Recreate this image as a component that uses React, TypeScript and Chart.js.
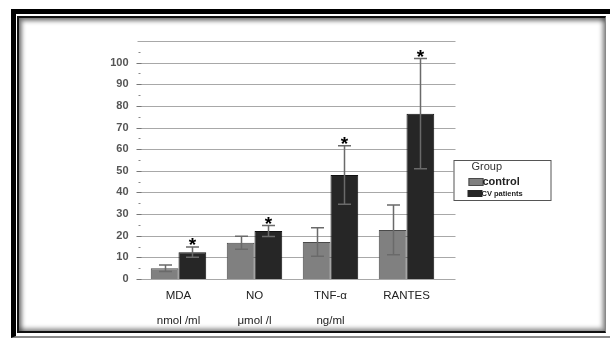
import React, { useEffect, useRef } from "react";
import { Chart, registerables } from "chart.js";

Chart.register(...registerables);

const categories = ["MDA", "NO", "TNF-α", "RANTES"];
const units = ["nmol /ml", "μmol /l", "ng/ml", ""];
const seriesNames = ["control", "CV patients"];
const controlMeans = [5, 16.8, 17.1, 22.7];
const controlErr = [1.5, 3, 6.6, 11.5];
const cvMeans = [12.4, 22.2, 48.1, 76.4];
const cvErr = [2.4, 2.5, 13.5, 25.5];
const significant = [true, true, true, true];
const yTickLabels = [0, 10, 20, 30, 40, 50, 60, 70, 80, 90, 100];
const legendTitle = "Group";

const FONT = "'Liberation Sans', Arial, sans-serif";

const gridPlugin = {
  id: "extGrid",
  beforeDatasetsDraw(chart: any) {
    const { ctx, chartArea, scales } = chart;
    const y = scales.y;
    ctx.save();
    for (let v = 0; v <= 110; v += 5) {
      const py = Math.round(y.getPixelForValue(v)) + 0.5;
      if (v % 10 === 0) {
        ctx.strokeStyle = "#a8a8a8";
        ctx.lineWidth = 1;
        ctx.beginPath();
        ctx.moveTo(chartArea.left - 3, py);
        ctx.lineTo(chartArea.right + 11, py);
        ctx.stroke();
        if (v <= 100) {
          ctx.strokeStyle = "#777";
          ctx.beginPath();
          ctx.moveTo(chartArea.left - 4, py);
          ctx.lineTo(chartArea.left + 1, py);
          ctx.stroke();
        }
      } else {
        ctx.strokeStyle = "#888";
        ctx.beginPath();
        ctx.moveTo(chartArea.left - 2, py);
        ctx.lineTo(chartArea.left, py);
        ctx.stroke();
      }
    }
    ctx.restore();
  },
};

const errorPlugin = {
  id: "errBars",
  afterDatasetsDraw(chart: any) {
    const { ctx, scales } = chart;
    const y = scales.y;
    const errs = [controlErr, cvErr];
    const means = [controlMeans, cvMeans];
    ctx.save();
    for (let d = 0; d < 2; d++) {
      const meta = chart.getDatasetMeta(d);
      meta.data.forEach((el: any, j: number) => {
        const x = Math.round(el.x) + 0.5;
        const top = y.getPixelForValue(means[d][j] + errs[d][j]);
        const bot = y.getPixelForValue(means[d][j] - errs[d][j]);
        ctx.strokeStyle = "#6a6a6a";
        ctx.lineWidth = 1.5;
        ctx.beginPath();
        ctx.moveTo(x, top);
        ctx.lineTo(x, bot);
        ctx.moveTo(x - 6.5, top);
        ctx.lineTo(x + 6.5, top);
        ctx.moveTo(x - 6.5, bot);
        ctx.lineTo(x + 6.5, bot);
        ctx.stroke();
        if (d === 1 && significant[j]) {
          ctx.fillStyle = "#000";
          ctx.font = `bold 19px ${FONT}`;
          ctx.textAlign = "center";
          ctx.textBaseline = "alphabetic";
          ctx.fillText("*", x, top + 4);
        }
      });
    }
    ctx.restore();
  },
};

const legendPlugin = {
  id: "boxLegend",
  afterDraw(chart: any) {
    const { ctx, chartArea } = chart;
    const left = chartArea.right + 9;
    const top = 160;
    const w = 97;
    const h = 40;
    ctx.save();
    ctx.fillStyle = "#fff";
    ctx.fillRect(left, top, w, h);
    ctx.strokeStyle = "#555";
    ctx.lineWidth = 1;
    ctx.strokeRect(left + 0.5, top + 0.5, w, h);
    ctx.fillStyle = "#333";
    ctx.font = `11px ${FONT}`;
    ctx.textAlign = "left";
    ctx.textBaseline = "middle";
    ctx.fillText(legendTitle, left + 18, top + 7);
    const ds = chart.data.datasets;
    ctx.fillStyle = ds[0].backgroundColor;
    ctx.fillRect(left + 15, top + 18, 15, 8);
    ctx.strokeStyle = ds[0].borderColor;
    ctx.strokeRect(left + 15.5, top + 18.5, 14, 7);
    ctx.fillStyle = "#222";
    ctx.font = `bold 11px ${FONT}`;
    ctx.fillText(seriesNames[0], left + 29, top + 22);
    ctx.fillStyle = ds[1].backgroundColor;
    ctx.fillRect(left + 14, top + 30, 15, 7);
    ctx.fillStyle = "#222";
    ctx.font = `bold 7.5px ${FONT}`;
    ctx.fillText(seriesNames[1], left + 28, top + 34);
    ctx.restore();
  },
};

export default function App() {
  const ref = useRef<HTMLCanvasElement | null>(null);
  useEffect(() => {
    if (!ref.current) return;
    const chart = new Chart(ref.current, {
      type: "bar",
      data: {
        labels: categories.map((c, i) => [c, units[i]]),
        datasets: [
          {
            label: seriesNames[0],
            data: controlMeans,
            backgroundColor: "#808080",
            borderColor: "#4a4a4a",
            borderWidth: 1,
          },
          {
            label: seriesNames[1],
            data: cvMeans,
            backgroundColor: "#262626",
            borderColor: "#111",
            borderWidth: 1,
          },
        ],
      },
      options: {
        responsive: false,
        animation: false,
        devicePixelRatio: 1,
        layout: { padding: { left: 0, top: 41, right: 165.5, bottom: 0 } },
        datasets: { bar: { categoryPercentage: 0.73, barPercentage: 1 } },
        plugins: { legend: { display: false }, tooltip: { enabled: false } },
        scales: {
          x: {
            grid: { display: false, drawTicks: false },
            border: { display: false },
            ticks: {
              padding: 4.5,
              color: "#222",
              font: { family: FONT, size: 11.5, lineHeight: 2.15 },
              maxRotation: 0,
              autoSkip: false,
            },
            afterFit(scale: any) {
              scale.height = 60;
            },
          },
          y: {
            min: 0,
            max: 110,
            grid: { display: false, drawTicks: false },
            border: { display: false },
            ticks: {
              stepSize: 10,
              padding: 12,
              color: "#555",
              font: { family: FONT, size: 11, weight: "bold" },
              callback: (v: any) => (yTickLabels.includes(v) ? String(v) : ""),
            },
            afterFit(scale: any) {
              scale.width = 140.5;
            },
          },
        },
      },
      plugins: [gridPlugin, errorPlugin, legendPlugin],
    } as any);
    return () => chart.destroy();
  }, []);

  return (
    <div
      style={{
        position: "fixed",
        left: 0,
        top: 0,
        width: 610,
        height: 339,
        overflow: "hidden",
        background: "#fff",
      }}
    >
      <div
        style={{
          position: "absolute",
          left: 11,
          top: 9,
          width: 610,
          height: 329,
          boxSizing: "border-box",
          borderTop: "5px solid #000",
          borderLeft: "5px solid #000",
          borderBottom: "2px solid #8a8a8a",
          background: "#fff",
        }}
      >
        <div
          style={{
            position: "absolute",
            left: 1,
            top: 2,
            width: 589,
            height: 317,
            boxSizing: "border-box",
            borderTop: "2px solid #111",
            borderLeft: "2px solid #111",
            borderBottom: "2px solid #111",
            borderRight: "1px solid #888",
            boxShadow:
              "inset 2px 2px 4px 1px rgba(0,0,0,0.5), inset -2px -2px 4px 1px rgba(0,0,0,0.35)",
          }}
        />
      </div>
      <canvas
        ref={ref}
        width={610}
        height={339}
        style={{ position: "absolute", left: 0, top: 0, width: 610, height: 339 }}
      />
    </div>
  );
}
